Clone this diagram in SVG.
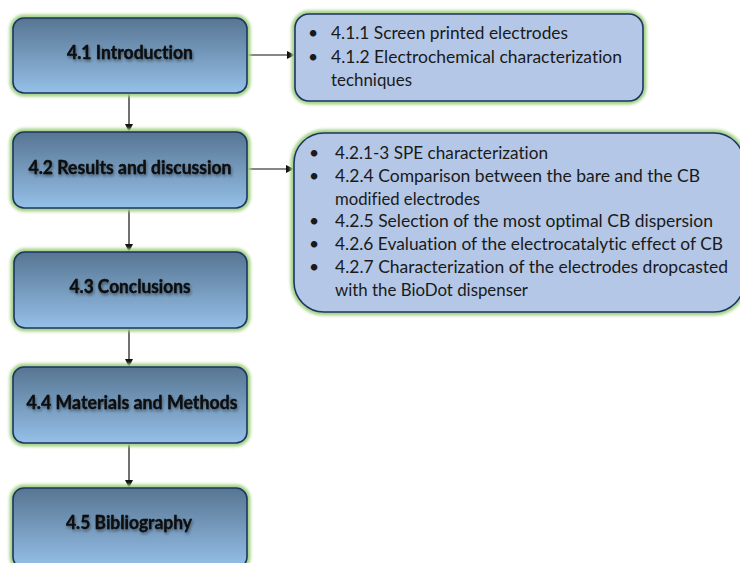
<svg xmlns="http://www.w3.org/2000/svg" width="740" height="563" viewBox="0 0 740 563">
  <defs>
    <linearGradient id="boxFill" x1="0" y1="0" x2="0" y2="1">
      <stop offset="0" stop-color="#577592"/>
      <stop offset="1" stop-color="#95c0e8"/>
    </linearGradient>
    <filter id="glow" x="-10%" y="-20%" width="120%" height="140%">
      <feGaussianBlur stdDeviation="1.6"/>
    </filter>
    <filter id="textShadow" x="-10%" y="-40%" width="120%" height="180%">
      <feGaussianBlur in="SourceAlpha" stdDeviation="1.4" result="b"/>
      <feOffset in="b" dx="1" dy="2" result="o"/>
      <feComponentTransfer in="o" result="s">
        <feFuncA type="linear" slope="0.45"/>
      </feComponentTransfer>
      <feMerge>
        <feMergeNode in="s"/>
        <feMergeNode in="SourceGraphic"/>
      </feMerge>
    </filter>
    <marker id="arrow" viewBox="0 0 10 10" refX="10" refY="5" markerWidth="8" markerHeight="8" markerUnits="userSpaceOnUse" orient="auto">
      <path d="M0,0 L10,5 L0,10 z" fill="#111"/>
    </marker>
  </defs>
  <style>
    .halo { fill: none; stroke: #a3d184; stroke-width: 7; }
    .step { fill: url(#boxFill); stroke: #1c3563; stroke-width: 1.6; }
    .note { fill: #b4c7e7; stroke: #1c3563; stroke-width: 1.6; }
    text { font-variant-ligatures: none; font-feature-settings: "liga" 0, "dlig" 0; }
    .label { font-family: Lato, "Liberation Sans", sans-serif; font-weight: bold; font-size: 18px; fill: #0a0a0a; text-anchor: middle; stroke: #0a0a0a; stroke-width: 0.3; }
    .item { font-family: Lato, "Liberation Sans", sans-serif; font-size: 17.5px; fill: #1a1a1a; }
    .link { stroke: #111; stroke-width: 1.2; fill: none; }
  </style>

  <rect width="740" height="563" fill="#ffffff"/>

  <!-- connectors -->
  <g id="connectors">
    <line class="link" x1="129" y1="93" x2="129" y2="132" marker-end="url(#arrow)"/>
    <line class="link" x1="129" y1="208" x2="129" y2="252" marker-end="url(#arrow)"/>
    <line class="link" x1="129" y1="328" x2="129" y2="367" marker-end="url(#arrow)"/>
    <line class="link" x1="129" y1="443" x2="129" y2="488" marker-end="url(#arrow)"/>
    <line class="link" x1="247" y1="55" x2="295" y2="55" marker-end="url(#arrow)"/>
    <line class="link" x1="247" y1="169" x2="294" y2="169" marker-end="url(#arrow)"/>
  </g>

  <!-- chapter sections -->
  <g id="intro">
    <rect class="halo" x="13" y="18" width="234" height="75" rx="11" filter="url(#glow)"/>
    <rect class="step" x="13" y="18" width="234" height="75" rx="11"/>
    <text class="label" x="130" y="59" textLength="126" lengthAdjust="spacingAndGlyphs" filter="url(#textShadow)">4.1 Introduction</text>
  </g>
  <g id="results">
    <rect class="halo" x="13" y="132" width="234" height="76" rx="11" filter="url(#glow)"/>
    <rect class="step" x="13" y="132" width="234" height="76" rx="11"/>
    <text class="label" x="130" y="174" textLength="203" lengthAdjust="spacingAndGlyphs" filter="url(#textShadow)">4.2 Results and discussion</text>
  </g>
  <g id="conclusions">
    <rect class="halo" x="14" y="252" width="233" height="76" rx="11" filter="url(#glow)"/>
    <rect class="step" x="14" y="252" width="233" height="76" rx="11"/>
    <text class="label" x="130" y="293" textLength="121" lengthAdjust="spacingAndGlyphs" filter="url(#textShadow)">4.3 Conclusions</text>
  </g>
  <g id="methods">
    <rect class="halo" x="13" y="367" width="234" height="76" rx="11" filter="url(#glow)"/>
    <rect class="step" x="13" y="367" width="234" height="76" rx="11"/>
    <text class="label" x="132" y="409" textLength="211" lengthAdjust="spacingAndGlyphs" filter="url(#textShadow)">4.4 Materials and Methods</text>
  </g>
  <g id="bibliography">
    <rect class="halo" x="13" y="488" width="234" height="80" rx="11" filter="url(#glow)"/>
    <rect class="step" x="13" y="488" width="234" height="80" rx="11"/>
    <text class="label" x="129" y="529" textLength="126" lengthAdjust="spacingAndGlyphs" filter="url(#textShadow)">4.5 Bibliography</text>
  </g>

  <!-- subsection lists -->
  <g id="intro-topics">
    <rect class="halo" x="295" y="14" width="348" height="87" rx="14" filter="url(#glow)"/>
    <rect class="note" x="295" y="14" width="348" height="87" rx="14"/>
    <text class="item" x="308" y="39">•</text>
    <text class="item" x="331" y="39" textLength="237" lengthAdjust="spacingAndGlyphs">4.1.1 Screen printed electrodes</text>
    <text class="item" x="308" y="63">•</text>
    <text class="item" x="331" y="63" textLength="291" lengthAdjust="spacingAndGlyphs">4.1.2 Electrochemical characterization</text>
    <text class="item" x="331" y="86" textLength="81" lengthAdjust="spacingAndGlyphs">techniques</text>
  </g>
  <g id="results-topics">
    <rect class="halo" x="294" y="133" width="450" height="179" rx="30" filter="url(#glow)"/>
    <rect class="note" x="294" y="133" width="450" height="179" rx="30"/>
    <text class="item" x="309" y="159">•</text>
    <text class="item" x="335" y="159" textLength="213" lengthAdjust="spacingAndGlyphs">4.2.1-3 SPE characterization</text>
    <text class="item" x="309" y="182">•</text>
    <text class="item" x="335" y="182" textLength="365" lengthAdjust="spacingAndGlyphs">4.2.4 Comparison between the bare and the CB</text>
    <text class="item" x="335" y="205" textLength="145" lengthAdjust="spacingAndGlyphs">modified electrodes</text>
    <text class="item" x="309" y="227">•</text>
    <text class="item" x="335" y="227" textLength="378" lengthAdjust="spacingAndGlyphs">4.2.5 Selection of the most optimal CB dispersion</text>
    <text class="item" x="309" y="250">•</text>
    <text class="item" x="335" y="250" textLength="388" lengthAdjust="spacingAndGlyphs">4.2.6 Evaluation of the electrocatalytic effect of CB</text>
    <text class="item" x="309" y="273">•</text>
    <text class="item" x="335" y="273" textLength="393" lengthAdjust="spacingAndGlyphs">4.2.7 Characterization of the electrodes dropcasted</text>
    <text class="item" x="335" y="296" textLength="193" lengthAdjust="spacingAndGlyphs">with the BioDot dispenser</text>
  </g>
</svg>
